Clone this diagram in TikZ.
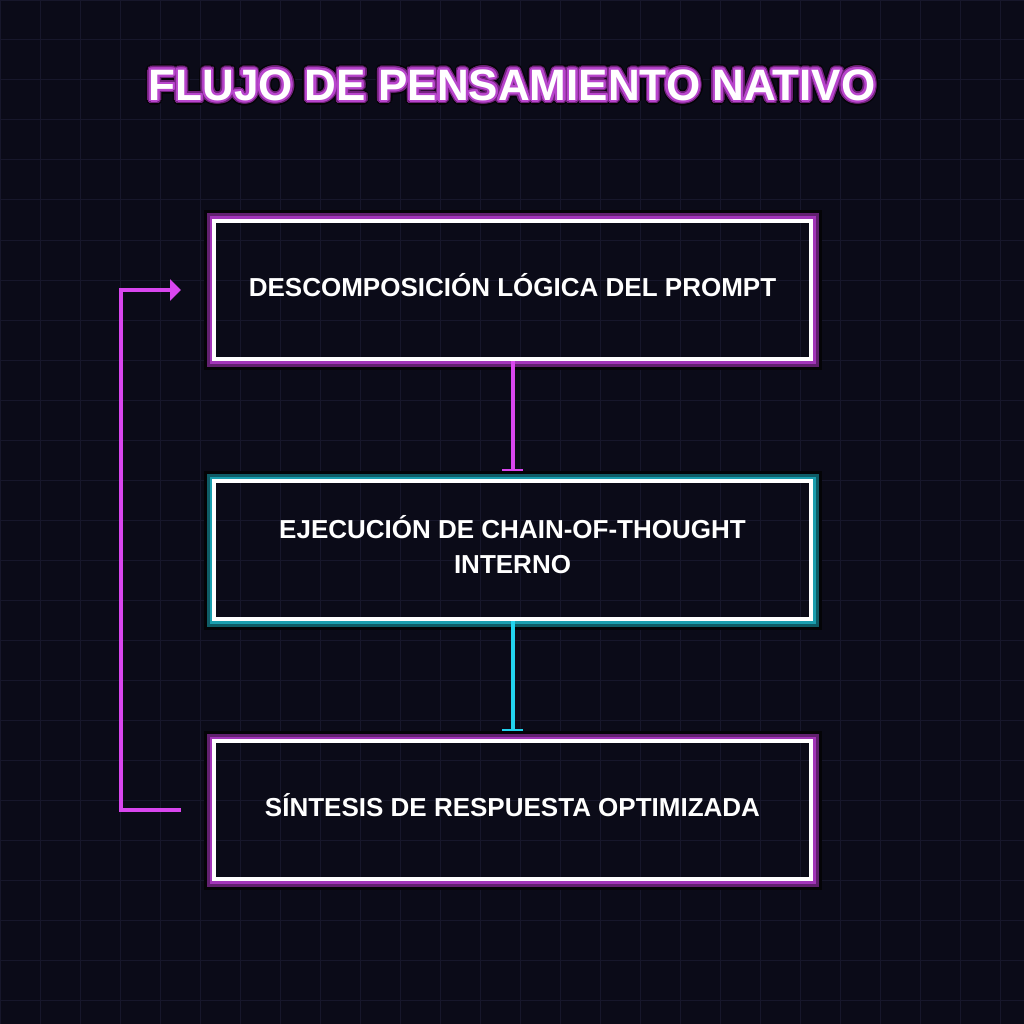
\documentclass[tikz,border=0pt]{standalone}
\usepackage{fontspec}
\setmainfont{Liberation Sans}
\usetikzlibrary{arrows.meta, positioning, calc}
\definecolor{bgdark}{HTML}{0B0B18}
\definecolor{gridcol}{HTML}{17172B}
\definecolor{neonmag}{HTML}{D946EF}
\definecolor{magmid}{HTML}{A235B8}
\definecolor{magdark}{HTML}{62206F}
\definecolor{neoncyan}{HTML}{22D3EE}
\definecolor{cyanmid}{HTML}{1A9EAE}
\definecolor{cyandark}{HTML}{0E5C66}
\definecolor{shadowcol}{HTML}{040407}
\definecolor{titlemid}{HTML}{B845CC}
\definecolor{titledark}{HTML}{74237F}

\begin{document}
\begin{tikzpicture}[x=1pt, y=-1pt,
    node distance=118pt,
    stage/.style={draw=white, line width=4pt, minimum width=597pt, minimum height=138pt, align=center, text=white, text height=12.6pt, font=\fontsize{26}{35}\selectfont\bfseries},
    arrm/.style={neonmag, line width=4pt, -{Bar[width=21pt, line width=2pt]}, shorten >=8pt},
    arrc/.style={neoncyan, line width=4pt, -{Bar[width=21pt, line width=2pt]}, shorten >=8pt},
    loopline/.style={neonmag, line width=4pt, -{Triangle[length=11pt, width=21pt]}},
    titletext/.style={font=\fontsize{44}{50}\selectfont\bfseries}
]
\useasboundingbox (0,0) rectangle (1024,1024);
\fill[bgdark] (0,0) rectangle (1024,1024);
\draw[gridcol, line width=1pt, step=40pt] (0,0) grid (1024,1024);

% title with neon outline
\coordinate (titlepos) at (512,85);
\foreach \a in {0,20,...,340}
  \node[titletext, text=shadowcol] (tshadow\a) at ($(titlepos)+(\a:5)$) {FLUJO DE PENSAMIENTO NATIVO};
\foreach \a in {0,20,...,340}
  \node[titletext, text=titledark] (tdark\a) at ($(titlepos)+(\a:3.6)$) {FLUJO DE PENSAMIENTO NATIVO};
\foreach \a in {0,20,...,340}
  \node[titletext, text=titlemid] (tmid\a) at ($(titlepos)+(\a:2.1)$) {FLUJO DE PENSAMIENTO NATIVO};
\node[titletext, text=white] (title) at (titlepos) {FLUJO DE PENSAMIENTO NATIVO};

\node[stage] (decomp) at (512.5,290) {DESCOMPOSICIÓN LÓGICA DEL PROMPT};
\node[stage, below=of decomp, text height=47.6pt] (cot) {EJECUCIÓN DE CHAIN-OF-THOUGHT\\INTERNO};
\node[stage, below=of cot] (sintesis) {SÍNTESIS DE RESPUESTA OPTIMIZADA};

% outer glow of the frames
\foreach \n/\mc/\dc in {decomp/magmid/magdark, cot/cyanmid/cyandark, sintesis/magmid/magdark}{
  \draw[color=\mc, line width=2.6pt] ($(\n.south west)+(-1.3,1.3)$) rectangle ($(\n.north east)+(1.3,-1.3)$);
  \draw[color=\dc, line width=3pt] ($(\n.south west)+(-4,4)$) rectangle ($(\n.north east)+(4,-4)$);
  \draw[color=shadowcol, line width=3pt] ($(\n.south west)+(-7,7)$) rectangle ($(\n.north east)+(7,-7)$);
}

\draw[arrm] (decomp) -- (cot);
\draw[arrc] (cot) -- (sintesis);

\coordinate (loopstart) at ([xshift=-31pt]sintesis.west);
\coordinate (loopend) at ([xshift=-31pt]decomp.west);
\draw[loopline] (loopstart) -- ++(-60,0) |- (loopend);
\end{tikzpicture}
\end{document}
